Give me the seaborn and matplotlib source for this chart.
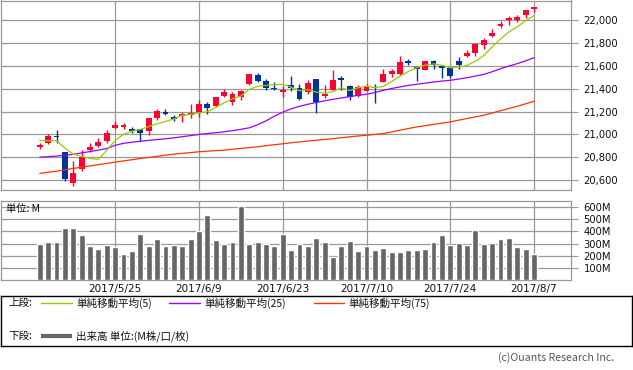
import numpy as np
import matplotlib
matplotlib.use("Agg")
import matplotlib.pyplot as plt
import seaborn as sns

# ---------------- data ----------------
tick_idx = [9, 19, 29, 39, 49, 59]
tick_labels = ["2017/5/25", "2017/6/9", "2017/6/23", "2017/7/10", "2017/7/24", "2017/8/7"]

opens = [20893, 20921, 20985, 20845, 20576, 20699, 20865, 20900, 20941, 21058,
         21072, 21052, 21050, 21029, 21140, 21195, 21150, 21170, 21175, 21198,
         21265, 21247, 21335, 21285, 21329, 21440, 21519, 21466, 21410, 21372,
         21438, 21411, 21373, 21489, 21344, 21394, 21492, 21422, 21338, 21380,
         21415, 21460, 21527, 21527, 21635, 21592, 21568, 21641, 21600, 21583,
         21641, 21690, 21717, 21781, 21863, 21960, 22005, 22003, 22052, 22097]
highs = [20921, 21008, 21037, 20845, 20766, 20862, 20921, 20970, 21037, 21116,
         21099, 21066, 21052, 21145, 21227, 21227, 21169, 21198, 21265, 21306,
         21282, 21330, 21396, 21373, 21393, 21530, 21539, 21489, 21460, 21428,
         21510, 21440, 21481, 21489, 21431, 21562, 21510, 21431, 21431, 21446,
         21440, 21577, 21571, 21685, 21659, 21597, 21641, 21656, 21606, 21592,
         21679, 21743, 21802, 21845, 21927, 21991, 22038, 22044, 22096, 22122]
lows = [20869, 20915, 20927, 20591, 20550, 20681, 20848, 20892, 20927, 21052,
        21046, 21014, 20941, 20991, 21125, 21169, 21119, 21110, 21140, 21154,
        21183, 21240, 21329, 21256, 21300, 21431, 21460, 21387, 21387, 21329,
        21381, 21300, 21352, 21189, 21320, 21387, 21394, 21300, 21329, 21379,
        21277, 21460, 21504, 21519, 21606, 21469, 21568, 21571, 21495, 21498,
        21571, 21679, 21688, 21746, 21854, 21933, 21962, 21985, 22020, 22073]
closes = [20897, 20985, 20980, 20606, 20663, 20804, 20894, 20937, 21012, 21083,
          21080, 21029, 21009, 21144, 21206, 21184, 21136, 21173, 21182, 21271,
          21235, 21328, 21374, 21359, 21384, 21528, 21467, 21410, 21397, 21394,
          21409, 21310, 21454, 21287, 21350, 21479, 21478, 21330, 21414, 21418,
          21409, 21532, 21553, 21638, 21629, 21574, 21641, 21611, 21580, 21513,
          21613, 21711, 21796, 21830, 21891, 21963, 22016, 22026, 22092, 22118]

ma5 = [20947, 20944, 20945, 20880, 20826, 20808, 20789, 20781, 20862, 20946,
       21001, 21028, 21043, 21069, 21094, 21114, 21136, 21169, 21176, 21189,
       21199, 21238, 21278, 21313, 21336, 21395, 21422, 21430, 21437, 21439,
       21415, 21384, 21393, 21371, 21362, 21376, 21410, 21385, 21410, 21424,
       21410, 21421, 21465, 21510, 21552, 21585, 21607, 21619, 21607, 21584,
       21592, 21606, 21643, 21693, 21768, 21838, 21899, 21945, 21998, 22043]
ma25 = [20801, 20805, 20810, 20818, 20825, 20838, 20850, 20862, 20877, 20905,
        20922, 20932, 20940, 20948, 20955, 20962, 20970, 20980, 20990, 21000,
        21008, 21015, 21023, 21033, 21045, 21058, 21085, 21119, 21160, 21195,
        21225, 21247, 21265, 21280, 21295, 21308, 21320, 21332, 21343, 21352,
        21368, 21387, 21403, 21417, 21430, 21440, 21450, 21460, 21468, 21475,
        21486, 21498, 21512, 21527, 21550, 21577, 21600, 21621, 21646, 21673]
ma75 = [20658, 20668, 20678, 20690, 20702, 20713, 20724, 20735, 20746, 20757,
        20768, 20778, 20789, 20798, 20808, 20818, 20827, 20834, 20841, 20848,
        20853, 20858, 20862, 20870, 20877, 20885, 20892, 20901, 20910, 20918,
        20927, 20934, 20942, 20949, 20956, 20963, 20971, 20979, 20986, 20993,
        21000, 21008, 21022, 21037, 21052, 21066, 21077, 21088, 21099, 21110,
        21125, 21140, 21154, 21169, 21188, 21208, 21228, 21247, 21269, 21291]

volume = [297, 317, 317, 427, 427, 369, 278, 253, 287, 270,
          212, 242, 377, 278, 336, 278, 287, 278, 336, 402,
          534, 328, 300, 317, 606, 295, 317, 295, 278, 375,
          245, 295, 278, 344, 317, 187, 278, 325, 242, 278,
          251, 267, 234, 234, 251, 251, 259, 317, 369, 287,
          309, 287, 408, 295, 309, 336, 344, 270, 259, 218]

price_ticks = [20600, 20800, 21000, 21200, 21400, 21600, 21800, 22000]
vol_ticks = [100, 200, 300, 400, 500, 600]

# ---------------- style ----------------
sns.set_style("white")
plt.rcParams["font.family"] = ["DejaVu Sans", "Noto Sans CJK JP"]
JP = ["Noto Sans CJK JP", "DejaVu Sans"]

RED = "#FF0033"
BLUE = "#003399"
GRID = "#999999"
W, H = 633, 370

fig = plt.figure(figsize=(W / 100, H / 100), dpi=100)
ax = fig.add_axes([0.5 / W, 1 - 190 / H, 570.5 / W, 189.5 / H])
axv = fig.add_axes([0.5 / W, 1 - 280.3 / H, 570.5 / W, 79.3 / H])

idx = np.arange(len(closes))
o = np.array(opens, float); c = np.array(closes, float)
hi = np.array(highs, float); lo = np.array(lows, float)
cols = [RED if cc >= oo else BLUE for oo, cc in zip(o, c)]

# ---------------- price panel ----------------
ax.set_axisbelow(True)
ax.vlines(idx, lo, hi, colors=cols, lw=1.0, zorder=2)
h = np.maximum(np.abs(c - o), 16)
mid = (o + c) / 2
ax.bar(idx, h, bottom=mid - h / 2, width=0.7, color=cols, linewidth=0, zorder=3)

sns.lineplot(x=idx, y=ma75, color="#FF3300", lw=0.9, ax=ax, zorder=4)
sns.lineplot(x=idx, y=ma25, color="#9900FF", lw=0.9, ax=ax, zorder=4)
sns.lineplot(x=idx, y=ma5, color="#99CC00", lw=0.9, ax=ax, zorder=4)

ax.set_xlim(-4.69, 63.41)
ax.set_ylim(20512.5, 22175)
ax.set_xticks(tick_idx)
ax.set_yticks(price_ticks)
ax.set_yticklabels([f"{v:,}" for v in price_ticks])
ax.yaxis.tick_right()
ax.tick_params(axis="x", length=0, labelbottom=False)
ax.tick_params(axis="y", length=5, width=0.8, color=GRID, pad=4, labelsize=7.2, labelcolor="#111111")
ax.grid(True, color=GRID, lw=0.9)
ax.set_xlabel(""); ax.set_ylabel("")
for s in ax.spines.values():
    s.set_color(GRID); s.set_linewidth(0.9)

# ---------------- volume panel ----------------
axv.set_axisbelow(True)
sns.barplot(x=idx, y=volume, native_scale=True, color="#666666", saturation=1,
            width=0.7, errorbar=None, ax=axv, zorder=3)
axv.set_xlim(-4.69, 63.41)
axv.set_ylim(0, 649)
axv.set_yticks(vol_ticks)
axv.set_yticklabels([f"{v}M" for v in vol_ticks])
axv.yaxis.tick_right()
axv.set_xticks(tick_idx)
axv.set_xticklabels(tick_labels)
axv.tick_params(axis="x", length=0, pad=3, labelsize=7.5, labelcolor="#111111")
axv.tick_params(axis="y", length=5, width=0.8, color=GRID, pad=4, labelsize=7.2, labelcolor="#111111")
axv.grid(True, color=GRID, lw=0.9)
axv.set_xlabel(""); axv.set_ylabel("")
for s in axv.spines.values():
    s.set_color(GRID); s.set_linewidth(0.9)
axv.text(6 / 570.5, 1 - 8 / 79.3, "単位: M", transform=axv.transAxes, ha="left", va="center",
         fontsize=7.4, family=JP, color="#111111")

# ---------------- legend box ----------------
lg = fig.add_axes([0.5 / W, 1 - 346 / H, 631 / W, 50.5 / H])
lg.set_xlim(0, 631)
lg.set_ylim(346, 295.5)
lg.set_xticks([]); lg.set_yticks([])
for s in lg.spines.values():
    s.set_color("black"); s.set_linewidth(1.0)
fs = 7.6
lg.text(8, 303, "上段:", va="center", ha="left", fontsize=fs, family=JP, color="#111111")
lg.plot([40, 71], [303, 303], color="#99CC00", lw=1.0)
lg.text(76, 303, "単純移動平均(5)", va="center", ha="left", fontsize=fs, family=JP, color="#111111")
lg.plot([168, 199], [303, 303], color="#9900FF", lw=1.0)
lg.text(204, 303, "単純移動平均(25)", va="center", ha="left", fontsize=fs, family=JP, color="#111111")
lg.plot([313, 343], [303, 303], color="#FF3300", lw=1.0)
lg.text(348, 303, "単純移動平均(75)", va="center", ha="left", fontsize=fs, family=JP, color="#111111")
lg.text(8, 336, "下段:", va="center", ha="left", fontsize=fs, family=JP, color="#111111")
lg.plot([40, 71], [336, 336], color="#666666", lw=3.0, solid_capstyle="butt")
lg.text(76, 336, "出来高 単位:(M株/口/枚)", va="center", ha="left", fontsize=fs, family=JP, color="#111111")

fig.text(614 / W, 1 - 358 / H, "(c)Ouants Research Inc.", ha="right", va="center",
         fontsize=7.6, color="#555555", family=JP)

fig.savefig("out.png", dpi=100)
